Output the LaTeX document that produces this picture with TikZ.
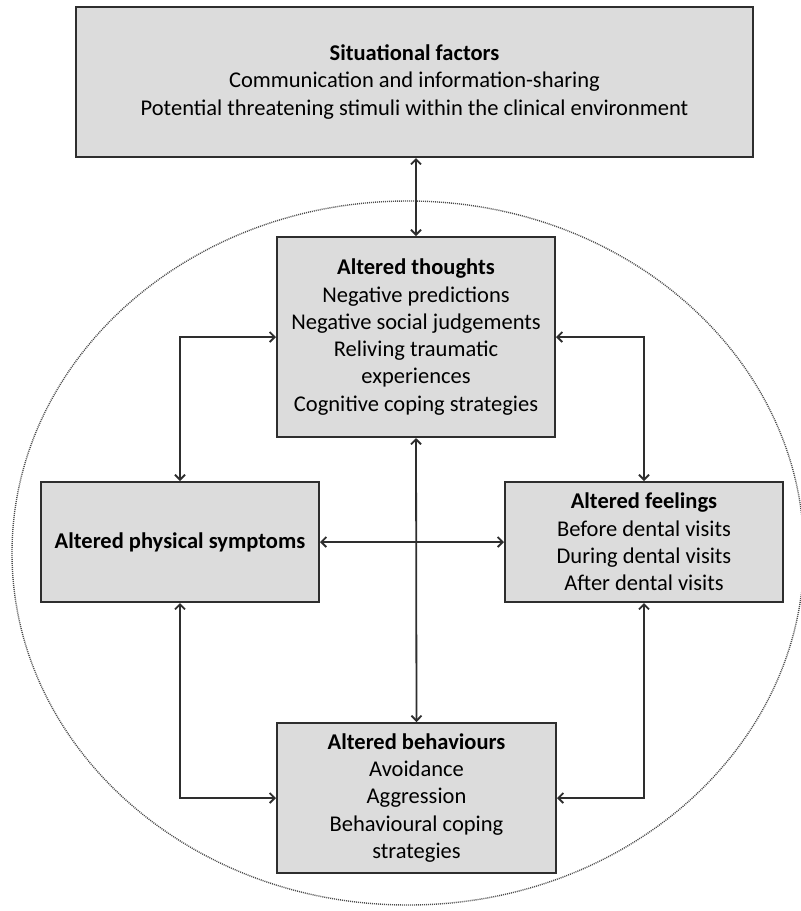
\documentclass[tikz,border=0pt]{standalone}
\usepackage{fontspec}
\setmainfont{Carlito}
\usetikzlibrary{arrows.meta, positioning}
\definecolor{boxfill}{HTML}{DCDCDC}
\definecolor{edge}{HTML}{2E2E2E}

\begin{document}
\begin{tikzpicture}[x=1pt, y=-1pt,
    box/.style={rectangle, draw=edge, line width=2pt, fill=boxfill, align=center,
                inner sep=0pt, font=\fontsize{22.5}{27.3}\selectfont},
    arr/.style={{Straight Barb[length=5pt,width=10pt]}-{Straight Barb[length=5pt,width=10pt]},
                line width=1.8pt, edge}
]
\useasboundingbox (0,0) rectangle (801,911);

% the dotted ring round the four boxes
\draw[gray!60!black, line width=1.4pt, dash pattern=on 1pt off 1pt] (408,553) ellipse [x radius=396pt, y radius=352pt];

\node[box, minimum width=677pt, minimum height=150pt] (sit) at (414.5,82)
    {\textbf{Situational factors}\\Communication and information-sharing\\Potential threatening stimuli within the clinical environment};
\node[box, minimum width=278pt, minimum height=200pt] (thou) at (416,337)
    {\textbf{Altered thoughts}\\Negative predictions\\Negative social judgements\\Reliving traumatic\\experiences\\Cognitive coping strategies};
\node[box, minimum width=278pt, minimum height=120pt] (phys) at (180,542)
    {\textbf{Altered physical symptoms}};
\node[box, minimum width=278pt, minimum height=120pt] (feel) at (644,542)
    {\textbf{Altered feelings}\\Before dental visits\\During dental visits\\After dental visits};
\node[box, minimum width=279pt, minimum height=150pt] (beh) at (416.5,798)
    {\textbf{Altered behaviours}\\Avoidance\\Aggression\\Behavioural coping\\strategies};

\draw[arr] (sit.south -| thou.north) -- (thou.north);
\draw[arr] (thou.west) -| (phys.north);
\draw[arr] (thou.east) -| (feel.north);
\draw[arr] (phys.east) -- (feel.west);
\draw[arr] (thou.south) -- (beh.north);
\draw[arr] (phys.south) |- (beh.west);
\draw[arr] (feel.south) |- (beh.east);
\end{tikzpicture}
\end{document}
